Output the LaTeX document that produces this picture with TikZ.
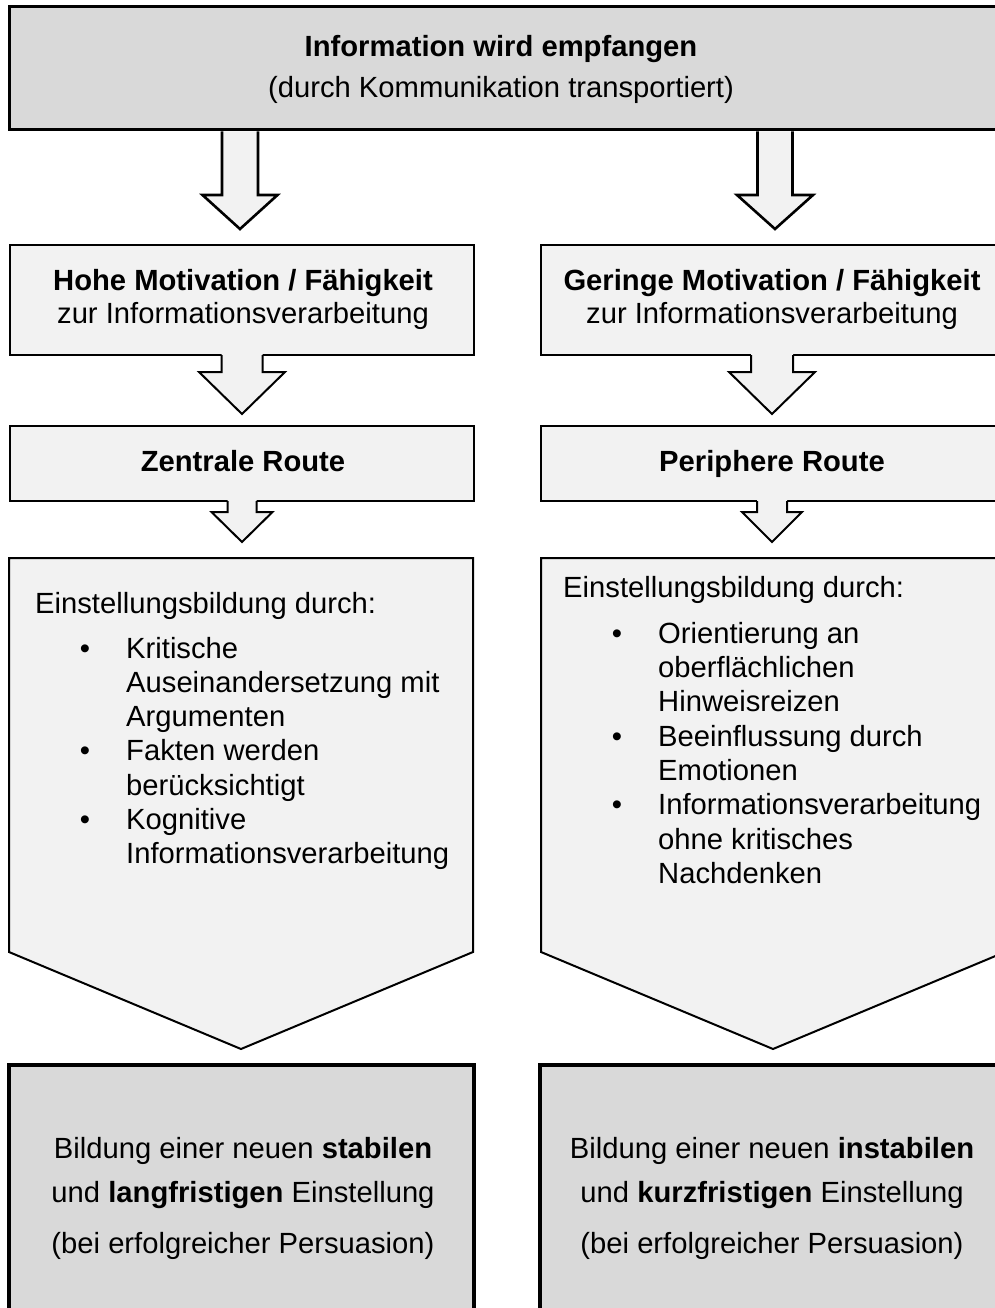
\documentclass[tikz,border=0pt]{standalone}
\usepackage{fontspec}
\setmainfont{Liberation Sans}
\definecolor{darkfill}{HTML}{D9D9D9}
\definecolor{lightfill}{HTML}{F2F2F2}
\newcommand\blockarrow[8]{% cx, ytop, yhead, ytip, shafthalf, headhalf, overlap, linewidth
  \fill[lightfill] (#1-#5,#2-#7) -- (#1-#5,#3) -- (#1-#6,#3) -- (#1,#4) -- (#1+#6,#3) -- (#1+#5,#3) -- (#1+#5,#2-#7) -- cycle;
  \draw[line width=#8, line join=miter] (#1-#5,#2) -- (#1-#5,#3) -- (#1-#6,#3) -- (#1,#4) -- (#1+#6,#3) -- (#1+#5,#3) -- (#1+#5,#2);
}
\begin{document}
\begin{tikzpicture}[x=1pt,y=-1pt,
  every node/.style={font=\fontsize{29.2}{34}\selectfont, inner sep=0pt},
  darkbox/.style={draw, fill=darkfill, line width=3pt},
  lightbox/.style={draw, fill=lightfill, line width=2pt},
  txt/.style={anchor=base},
  ltxt/.style={anchor=base west},
  bul/.style={anchor=base}]
\clip (0,0) rectangle (995,1308);
\fill[white] (0,0) rectangle (995,1308);

% top box
\draw[darkbox] (9,7) rectangle (1002,130);
\node[txt] (title) at (501,57) {\textbf{Information wird empfangen}};
\node[txt] (subtitle) at (501,98) {(durch Kommunikation transportiert)};

% top arrows
\blockarrow{240}{131.5}{195}{229}{18}{37.5}{0}{2.6pt}
\blockarrow{775}{131.5}{195}{229}{17.5}{38}{0}{2.6pt}

% row 2
\draw[lightbox] (10,245) rectangle (474,355);
\draw[lightbox] (541,245) rectangle (1004,355);
\node[txt] (hl1) at (243,290) {\textbf{Hohe Motivation / Fähigkeit}};
\node[txt] (hl2) at (243,323) {zur Informationsverarbeitung};
\node[txt] (hr1) at (772,290) {\textbf{Geringe Motivation / Fähigkeit}};
\node[txt] (hr2) at (772,323) {zur Informationsverarbeitung};

\blockarrow{242}{355}{372}{414}{20.5}{43}{2}{2pt}
\blockarrow{772}{355}{372}{414}{21}{43}{2}{2pt}

% row 3
\draw[lightbox] (10,426) rectangle (474,501);
\draw[lightbox] (541,426) rectangle (1004,501);
\node[txt] (zr) at (243,471) {\textbf{Zentrale Route}};
\node[txt] (pr) at (772,471) {\textbf{Periphere Route}};

\blockarrow{242}{501}{512}{542}{14.5}{30.5}{2}{2pt}
\blockarrow{772}{501}{512}{542}{15}{30}{2}{2pt}

% pentagons
\draw[lightbox, line join=miter] (9,558) -- (473,558) -- (473,952) -- (241,1049) -- (9,952) -- cycle;
\draw[lightbox, line join=miter] (541,558) -- (1005,558) -- (1005,952) -- (773,1049) -- (541,952) -- cycle;

% left pentagon text
\node[ltxt] (le) at (35,613) {Einstellungsbildung durch:};
\node[bul] (lb1) at (85,658) {\textbullet};
\node[ltxt] (l1) at (126,658) {Kritische};
\node[ltxt] (l2) at (126,692) {Auseinandersetzung mit};
\node[ltxt] (l3) at (126,726) {Argumenten};
\node[bul] (lb2) at (85,760) {\textbullet};
\node[ltxt] (l4) at (126,760) {Fakten werden};
\node[ltxt] (l5) at (126,795) {berücksichtigt};
\node[bul] (lb3) at (85,829) {\textbullet};
\node[ltxt] (l6) at (126,829) {Kognitive};
\node[ltxt] (l7) at (126,863) {Informationsverarbeitung};

% right pentagon text
\node[ltxt] (re) at (563,597) {Einstellungsbildung durch:};
\node[bul] (rb1) at (617,643) {\textbullet};
\node[ltxt] (r1) at (658,643) {Orientierung an};
\node[ltxt] (r2) at (658,677) {oberflächlichen};
\node[ltxt] (r3) at (658,711) {Hinweisreizen};
\node[bul] (rb2) at (617,746) {\textbullet};
\node[ltxt] (r4) at (658,746) {Beeinflussung durch};
\node[ltxt] (r5) at (658,780) {Emotionen};
\node[bul] (rb3) at (617,814) {\textbullet};
\node[ltxt] (r6) at (658,814) {Informationsverarbeitung};
\node[ltxt] (r7) at (658,849) {ohne kritisches};
\node[ltxt] (r8) at (658,883) {Nachdenken};

% bottom boxes
\draw[darkbox, line width=3.5pt] (9,1065) rectangle (474,1320);
\draw[darkbox, line width=3.5pt] (540,1065) rectangle (1004,1320);
\node[txt] (bl1) at (243,1158) {Bildung einer neuen \textbf{stabilen}};
\node[txt] (bl2) at (243,1202) {und \textbf{langfristigen} Einstellung};
\node[txt] (bl3) at (243,1253) {(bei erfolgreicher Persuasion)};
\node[txt] (br1) at (772,1158) {Bildung einer neuen \textbf{instabilen}};
\node[txt] (br2) at (772,1202) {und \textbf{kurzfristigen} Einstellung};
\node[txt] (br3) at (772,1253) {(bei erfolgreicher Persuasion)};
\end{tikzpicture}
\end{document}
